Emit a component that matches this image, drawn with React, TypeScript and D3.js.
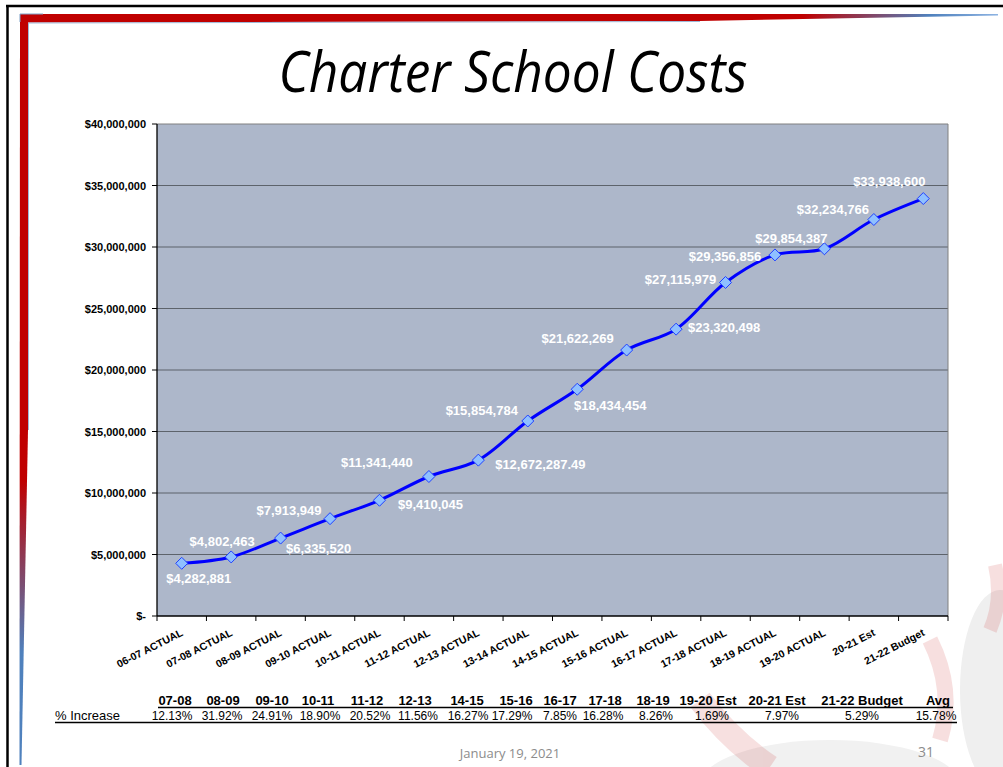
import React from "react";
import * as d3 from "d3";

// chart data
const categories = [
  "06-07 ACTUAL", "07-08 ACTUAL", "08-09 ACTUAL", "09-10 ACTUAL", "10-11 ACTUAL",
  "11-12 ACTUAL", "12-13 ACTUAL", "13-14 ACTUAL", "14-15 ACTUAL", "15-16 ACTUAL",
  "16-17 ACTUAL", "17-18 ACTUAL", "18-19 ACTUAL", "19-20 ACTUAL", "20-21 Est", "21-22 Budget",
];
const costs = [
  4282881, 4802463, 6335520, 7913949, 9410045, 11341440, 12672287.49, 15854784,
  18434454, 21622269, 23320498, 27115979, 29356856, 29854387, 32234766, 33938600,
];
const yTicks = [0, 5000000, 10000000, 15000000, 20000000, 25000000, 30000000, 35000000, 40000000];

// % increase table under the chart
const tableHeaders = [
  "07-08", "08-09", "09-10", "10-11", "11-12", "12-13", "14-15", "15-16", "16-17",
  "17-18", "18-19", "19-20 Est", "20-21 Est", "21-22 Budget", "Avg",
];
const pctIncrease = [
  "12.13%", "31.92%", "24.91%", "18.90%", "20.52%", "11.56%", "16.27%", "17.29%", "7.85%",
  "16.28%", "8.26%", "1.69%", "7.97%", "5.29%", "15.78%",
];

// layout
const W = 1003;
const H = 767;
const plot = { left: 157, right: 948, top: 124, bottom: 616 };
// where each data label sits relative to its point (dx, dy of the baseline centre)
const labelOffsets = [
  [17, 20], [-9, -11], [38, 15], [-41, -4], [51, 9], [-52, -10], [62, 9], [-46, -6],
  [33, 21], [-49, -7], [48, 3], [-45, 2], [-50, 6], [-33, -6], [-41, -6], [-34, -13],
];
const headerX = [175, 223, 272, 318, 367, 415, 467, 516, 560, 605, 653, 708, 777, 862, 938];
const valueX = [172, 222, 272, 320, 370, 418, 468, 512, 560, 603, 656, 712, 782, 862, 936];

const arial = "'Liberation Sans', Arial, sans-serif";
const sans = "'Open Sans', 'Noto Sans', sans-serif";

function App() {
  const x = d3
    .scaleBand<string>()
    .domain(categories)
    .range([plot.left, plot.right]);

  const y = d3
    .scaleLinear()
    .domain([0, 40000000])
    .range([plot.bottom, plot.top]);

  const cx = (i: number) => (x(categories[i]) as number) + x.bandwidth() / 2;

  const line = d3
    .line<number>()
    .x((_, i) => cx(i))
    .y((d) => y(d))
    .curve(d3.curveCatmullRom.alpha(0.5));

  const fmtTick = (v: number) => (v === 0 ? "$-" : d3.format("$,")(v));
  const fmtLabel = (v: number) => "$" + d3.format(",")(v);

  const diamond = (px: number, py: number, r = 6) =>
    `M${px},${py - r}L${px + r},${py}L${px},${py + r}L${px - r},${py}Z`;

  const boundaries = categories.map((c) => x(c) as number).concat(plot.right);

  return (
    <svg
      width={W}
      height={H}
      style={{ position: "absolute", left: 0, top: 0, background: "#fff" }}
    >
      <defs>
        <linearGradient id="topBar" x1="0" x2="1" y1="0" y2="0">
          <stop offset="0" stopColor="#c00000" />
          <stop offset="0.8" stopColor="#c00000" />
          <stop offset="0.93" stopColor="#4f81bd" />
          <stop offset="1" stopColor="#8db3e2" />
        </linearGradient>
        <linearGradient id="leftBar" x1="0" x2="0" y1="0" y2="1">
          <stop offset="0" stopColor="#c00000" />
          <stop offset="0.62" stopColor="#c00000" />
          <stop offset="0.85" stopColor="#4f81bd" />
          <stop offset="1" stopColor="#4f81bd" />
        </linearGradient>
      </defs>

      {/* faint watermark in the lower right */}
      <g>
        <ellipse cx={1000} cy={690} rx={40} ry={100} fill="#efefef" />
        <ellipse cx={830} cy={785} rx={130} ry={45} fill="#f1f1f1" />
        <g opacity={0.12}>
          <path d="M700,700 Q730,740 770,767" stroke="#c00000" strokeWidth={24} fill="none" />
          <path d="M995,565 Q1003,600 990,630" stroke="#c00000" strokeWidth={14} fill="none" />
          <path d="M930,640 Q955,690 940,740" stroke="#c00000" strokeWidth={16} fill="none" />
        </g>
      </g>

      {/* slide frame */}
      <line x1={6} x2={W} y1={6} y2={6} stroke="#000" strokeWidth={2.5} />
      <line x1={7.5} x2={7.5} y1={5} y2={H} stroke="#000" strokeWidth={2.5} />
      <polygon points="20,14 998,14 998,15.5 700,21 28,22.5 20,22.5" fill="url(#topBar)" />
      <polygon points="20,14 28,14 28,430 21.5,765 19.5,765" fill="url(#leftBar)" />
      <line x1={28.5} x2={700} y1={23} y2={21.5} stroke="#9db9d8" strokeWidth={1} />
      <line x1={28.5} x2={28.5} y1={23} y2={430} stroke="#9db9d8" strokeWidth={1} />
      <polyline points="20,22 20,14 43,14" fill="none" stroke="#7ea2c8" strokeWidth={1} />

      {/* title */}
      <text
        x={513}
        y={92}
        textAnchor="middle"
        fontFamily={sans}
        fontStyle="italic"
        fontSize={56}
        textLength={469}
        lengthAdjust="spacingAndGlyphs"
        fill="#000"
      >
        Charter School Costs
      </text>

      {/* plot area */}
      <rect
        x={plot.left}
        y={plot.top}
        width={plot.right - plot.left}
        height={plot.bottom - plot.top}
        fill="#adb7ca"
      />
      {yTicks.slice(1, -1).map((t) => (
        <line
          key={t}
          x1={plot.left}
          x2={plot.right}
          y1={y(t)}
          y2={y(t)}
          stroke="#5d636b"
          strokeWidth={1.2}
        />
      ))}
      <line x1={plot.left} x2={plot.right} y1={plot.top} y2={plot.top} stroke="#808080" />
      <line x1={plot.right} x2={plot.right} y1={plot.top} y2={plot.bottom} stroke="#808080" />

      {/* y axis */}
      <line x1={plot.left} x2={plot.left} y1={plot.top} y2={plot.bottom} stroke="#000" strokeWidth={1.3} />
      {yTicks.map((t) => (
        <g key={t}>
          <line x1={plot.left - 5} x2={plot.left} y1={y(t)} y2={y(t)} stroke="#000" />
          <text
            x={plot.left - 11}
            y={y(t) + 4}
            textAnchor="end"
            fontFamily={arial}
            fontWeight="bold"
            fontSize={11}
            fill="#000"
          >
            {fmtTick(t)}
          </text>
        </g>
      ))}

      {/* x axis */}
      <line x1={plot.left} x2={plot.right} y1={plot.bottom} y2={plot.bottom} stroke="#000" strokeWidth={1.5} />
      {boundaries.map((bx, i) => (
        <line key={i} x1={bx} x2={bx} y1={plot.bottom} y2={plot.bottom + 5} stroke="#000" />
      ))}
      {categories.map((c, i) => (
        <text
          key={c}
          transform={`translate(${cx(i) + 2},${plot.bottom + 19}) rotate(-27)`}
          textAnchor="end"
          fontFamily={arial}
          fontWeight="bold"
          fontSize={10.5}
          fill="#000"
        >
          {c}
        </text>
      ))}

      {/* series */}
      <path d={line(costs) || ""} fill="none" stroke="#0000ff" strokeWidth={3} />
      {costs.map((v, i) => (
        <path key={i} d={diamond(cx(i), y(v))} fill="#8fc0ff" stroke="#2040ff" strokeWidth={1} />
      ))}
      {costs.map((v, i) => (
        <text
          key={i}
          x={cx(i) + labelOffsets[i][0]}
          y={y(v) + labelOffsets[i][1]}
          textAnchor="middle"
          fontFamily={arial}
          fontWeight="bold"
          fontSize={13}
          fill="#fff"
        >
          {fmtLabel(v)}
        </text>
      ))}

      {/* % increase table */}
      {tableHeaders.map((h, i) => (
        <text
          key={h}
          x={headerX[i]}
          y={705}
          textAnchor="middle"
          fontFamily={arial}
          fontWeight="bold"
          fontSize={13}
          fill="#000"
        >
          {h}
        </text>
      ))}
      <line x1={158} x2={953} y1={707.5} y2={707.5} stroke="#000" strokeWidth={1.5} />
      <text x={55} y={720} fontFamily={arial} fontSize={13} fill="#000">
        % Increase
      </text>
      {pctIncrease.map((p, i) => (
        <text
          key={i}
          x={valueX[i]}
          y={720}
          textAnchor="middle"
          fontFamily={arial}
          fontSize={12}
          fill="#000"
        >
          {p}
        </text>
      ))}
      <line x1={55} x2={957} y1={722.5} y2={722.5} stroke="#000" strokeWidth={1.3} />

      {/* footer */}
      <text x={510} y={758} textAnchor="middle" fontFamily={sans} fontSize={13} fill="#8c8c8c">
        January 19, 2021
      </text>
      <text x={926} y={757} textAnchor="middle" fontFamily={sans} fontSize={14} fill="#8c8c8c">
        31
      </text>
    </svg>
  );
}

export default App;
